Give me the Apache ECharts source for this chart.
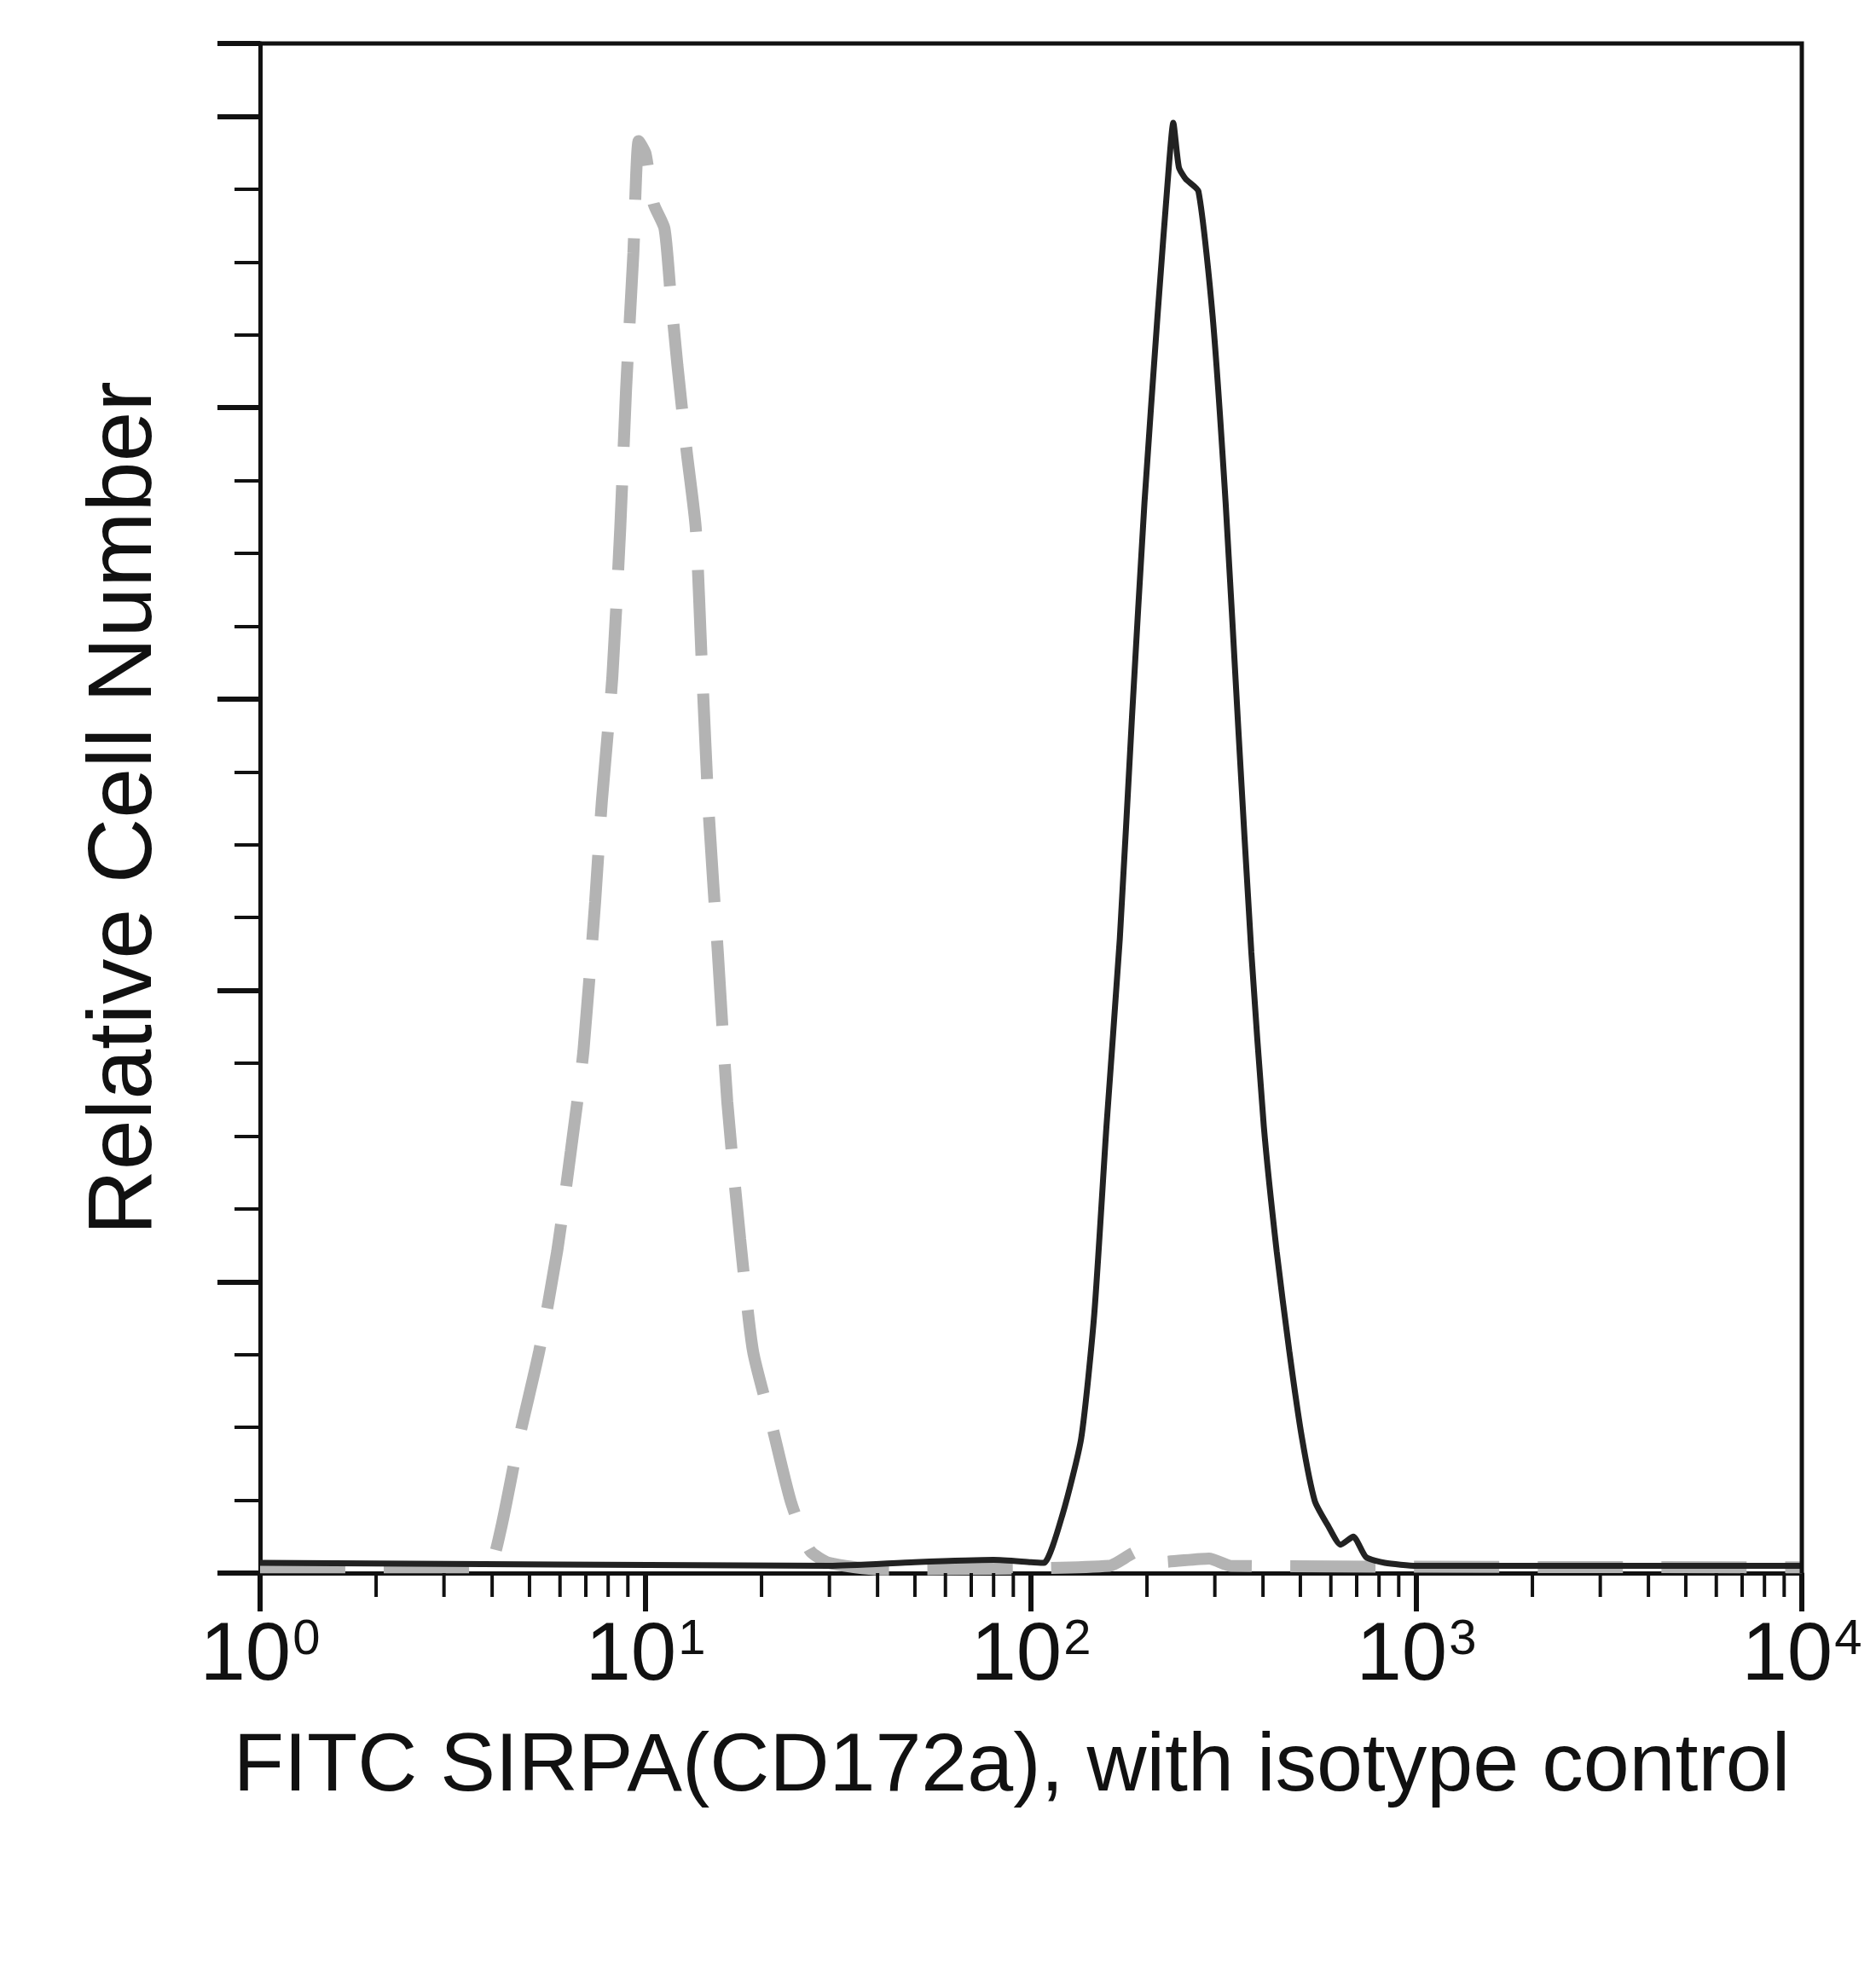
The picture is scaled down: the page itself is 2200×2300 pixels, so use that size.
<!DOCTYPE html>
<html><head><meta charset="utf-8">
<script src="https://cdn.jsdelivr.net/npm/echarts@6/dist/echarts.min.js"></script>
<style>html,body{margin:0;background:#fff}#c{width:2200px;height:2300px}</style>
</head><body><div id="c"></div>
<script>
// 流式直方图：SIRPA 染色（实线）与同型对照（灰色虚线）
const SIRPA = [
  [1, 1.4], [30, 1], [50, 1.5], [80, 1.8], [100, 1.5], [108, 1.4], [121, 8.2], [135, 18.5],
  [146, 35.6], [157, 61.3], [170, 87], [183, 117.8], [197, 146.9], [213, 172.6], [228, 193.2],
  [234, 199.1], [242, 193], [252, 191.4], [272, 189.7], [296, 172.6], [320, 146.9], [345, 116.1],
  [373, 85.3], [402, 61.3], [434, 44.2], [468, 30.5], [505, 18.5], [545, 9.9], [590, 6.5],
  [636, 3.9], [686, 5], [740, 2.2], [828, 1.4], [1000, 1], [10000, 1],
];
const ISOTYPE = [
  [1, 0.8], [3, 0.8], [3.9, 0.8], [4.2, 5.7], [4.7, 18.5], [5.3, 30.5], [5.9, 44.2], [6.4, 57.9],
  [6.9, 71.6], [7.4, 92.1], [7.7, 105.8], [8.2, 122.9], [8.6, 143.5], [8.9, 162.3], [9.3, 181.2],
  [9.6, 196.6], [10.0, 194.9], [10.5, 188], [11.2, 184.6], [11.6, 176], [12.1, 165.8], [12.8, 153.8],
  [13.5, 143.5], [14.0, 124.7], [14.6, 104.1], [15.4, 85.3], [16.3, 64.7], [17.6, 45.9], [19.0, 30.5],
  [21.3, 20.2], [23.8, 9.9], [26.7, 3.1], [29.9, 1.4], [40.4, 0.5], [160, 1], [190, 3], [215, 1.5],
  [290, 2], [330, 1], [10000, 0.8],
];
const X_TICK_LABELS = ['0', '1', '2', '3', '4'];
const MINOR_X = [];
[1, 10, 100, 1000].forEach(d => { for (let k = 2; k <= 9; k++) MINOR_X.push(d * k); });

const FONT = '"Liberation Sans", Arial, sans-serif';
const chart = echarts.init(document.getElementById('c'));
chart.setOption({
  backgroundColor: '#fff',
  animation: false,
  grid: { left: 305, right: 87, top: 51, bottom: 455 },
  xAxis: {
    type: 'log', min: 1, max: 10000, logBase: 10,
    name: 'FITC SIRPA(CD172a), with isotype control',
    nameLocation: 'middle', nameGap: 180,
    nameTextStyle: { fontFamily: FONT, fontSize: 97, color: '#111', padding: [0, 45, 0, 0] },
    axisLine: { lineStyle: { color: '#111', width: 5 } },
    axisTick: { length: 45, lineStyle: { color: '#111', width: 6 } },
    splitLine: { show: false },
    axisLabel: {
      margin: 50, fontFamily: FONT,
      formatter: v => '{b|10}{s|' + X_TICK_LABELS[Math.round(Math.log10(v))] + '}',
      rich: {
        b: { fontFamily: FONT, fontSize: 96, color: '#111' },
        s: { fontFamily: FONT, fontSize: 58, color: '#111', verticalAlign: 'top', padding: [0, 0, 40, 2] },
      },
    },
  },
  yAxis: {
    type: 'value', min: 0, max: 210, interval: 40,
    name: 'Relative Cell Number', nameLocation: 'middle', nameGap: 104,
    nameTextStyle: { fontFamily: FONT, fontSize: 106, color: '#111' },
    axisLine: { show: true, lineStyle: { color: '#111', width: 5 } },
    axisTick: { length: 50, lineStyle: { color: '#111', width: 6 } },
    minorTick: { show: true, splitNumber: 4, length: 30, lineStyle: { color: '#111', width: 4 } },
    axisLabel: { show: false },
    splitLine: { show: false },
  },
  series: [
    {
      type: 'line', data: ISOTYPE, showSymbol: false, smooth: 0.2,
      lineStyle: { color: '#b3b3b3', width: 14, type: [100, 45] }, z: 2,
    },
    {
      type: 'line', data: SIRPA, showSymbol: false, smooth: 0.2,
      lineStyle: { color: '#222', width: 7 }, z: 3,
    },
    {
      // x 轴次刻度（2..9 × 10^k）
      type: 'custom', silent: true, clip: false, z: 5,
      data: MINOR_X.map(v => [v, 0]),
      renderItem: (params, api) => {
        const p = api.coord([api.value(0), 0]);
        return { type: 'line', shape: { x1: p[0], y1: p[1], x2: p[0], y2: p[1] + 28 },
                 style: { stroke: '#111', lineWidth: 4 } };
      },
    },
    {
      // 顶部与右侧边框
      type: 'custom', silent: true, clip: false, z: 5,
      data: [[10000, 210]],
      renderItem: (params, api) => {
        const tr = api.coord([10000, 210]), tl = api.coord([1, 210]), br = api.coord([10000, 0]);
        return { type: 'polyline', shape: { points: [tl, tr, br] },
                 style: { stroke: '#111', lineWidth: 5, fill: null } };
      },
    },
  ],
});
</script></body></html>
